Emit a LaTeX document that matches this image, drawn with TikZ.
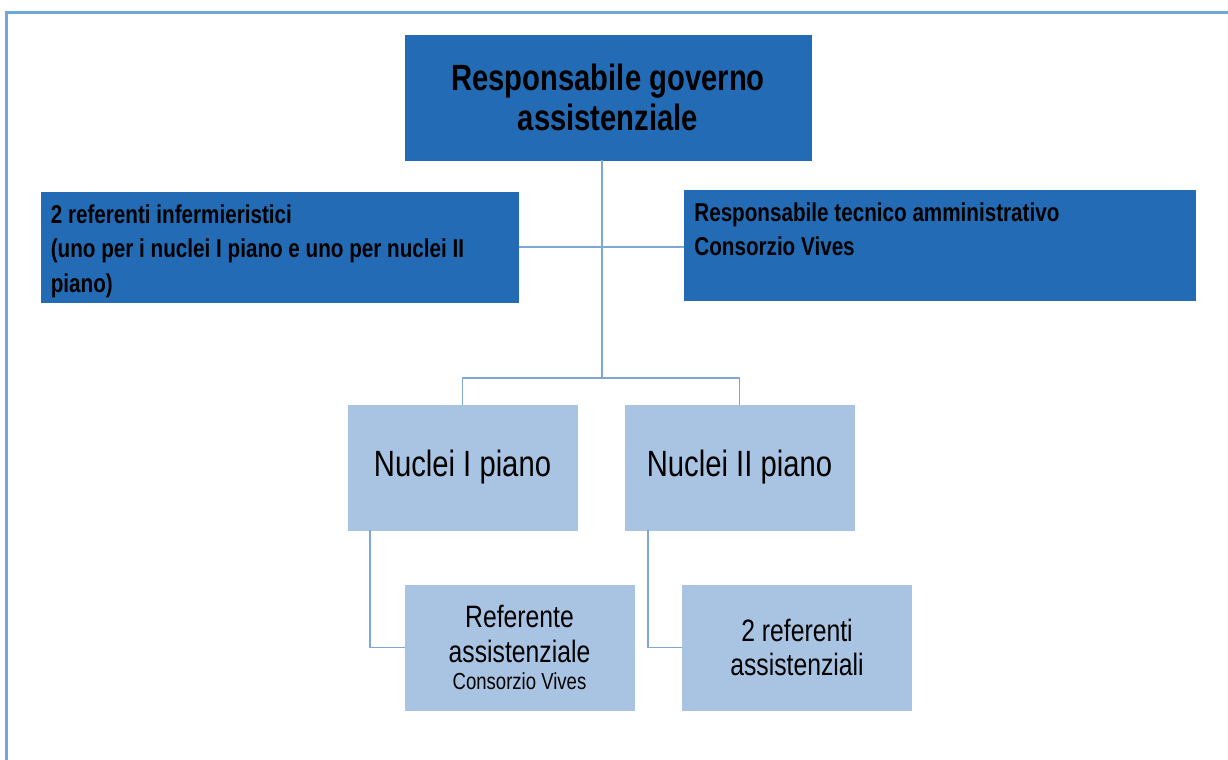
\documentclass[tikz,border=0pt]{standalone}
\usepackage{fontspec}
\setmainfont{Liberation Sans}
\newfontfamily\narrowfont[FakeStretch=0.8]{Liberation Sans}
\usetikzlibrary{calc}

\definecolor{darkblu}{RGB}{35,108,181}
\definecolor{lightblu}{RGB}{168,196,226}
\definecolor{linkblu}{RGB}{126,166,214}
\definecolor{frameblu}{RGB}{111,168,220}

\tikzset{
  topbox/.style={fill=darkblu,draw=darkblu,inner sep=0pt,align=center,
    font=\narrowfont\bfseries\fontsize{20.8}{22.8}\selectfont},
  sidebox/.style={fill=darkblu,draw=darkblu,inner xsep=1.9mm,inner ysep=1.4mm,
    anchor=north west,font=\narrowfont\bfseries\fontsize{14.7}{19.6}\selectfont},
  nucbox/.style={fill=lightblu,draw=lightblu,inner sep=0pt,align=center,
    minimum width=45.8mm,minimum height=25mm,
    font=\narrowfont\fontsize{20.8}{22}\selectfont},
  refbox/.style={nucbox,font=\narrowfont\fontsize{17.6}{19.6}\selectfont},
  link/.style={draw=linkblu,line width=1.1pt}
}

\begin{document}
\begin{tikzpicture}[x=0.02cm,y=-0.02cm]
\useasboundingbox (0,0) rectangle (1228,760);
\draw[frameblu,line width=1.2pt] (6.5,780) -- (6.5,12.5) -- (1250,12.5);

% top
\node[topbox,minimum width=81.2mm,minimum height=25mm] (resp) at (608,97.5)
  {Responsabile governo\\assistenziale};

% staff
\node[sidebox] (inferm) at (41,192)
  {\parbox[c][19.2mm][t]{91.6mm}{\strut 2 referenti infermieristici\\
   (uno per i nuclei I piano e\ uno per nuclei II\\piano)}};
\node[sidebox,inner xsep=2mm] (tecnico) at (684,190)
  {\parbox[c][19.2mm][t]{98.2mm}{\strut Responsabile tecnico amministrativo\\
   Consorzio Vives}};

% floors
\node[nucbox] (nucleoI) at (462.5,467.5) {Nuclei I piano};
\node[nucbox] (nucleoII) at (739.5,467.5) {Nuclei II piano};

\node[refbox] (refI) at (519.5,647.5)
  {Referente\\assistenziale\\[-4pt]{\fontsize{13.2}{14}\selectfont Consorzio Vives}};
\node[refbox] (refII) at (797,647.5) {2 referenti\\assistenziali};

% links
\coordinate (hub) at (602,378);
\draw[link] (resp.south -| hub) -- (hub);
\draw[link] (inferm.east) -- (inferm.east -| tecnico.west);
\draw[link] (nucleoI.north) |- (hub) -| (nucleoII.north);
\draw[link] ($(nucleoI.south west)+(22,0)$) |- (refI.west);
\draw[link] ($(nucleoII.south west)+(23,0)$) |- (refII.west);

\end{tikzpicture}
\end{document}
